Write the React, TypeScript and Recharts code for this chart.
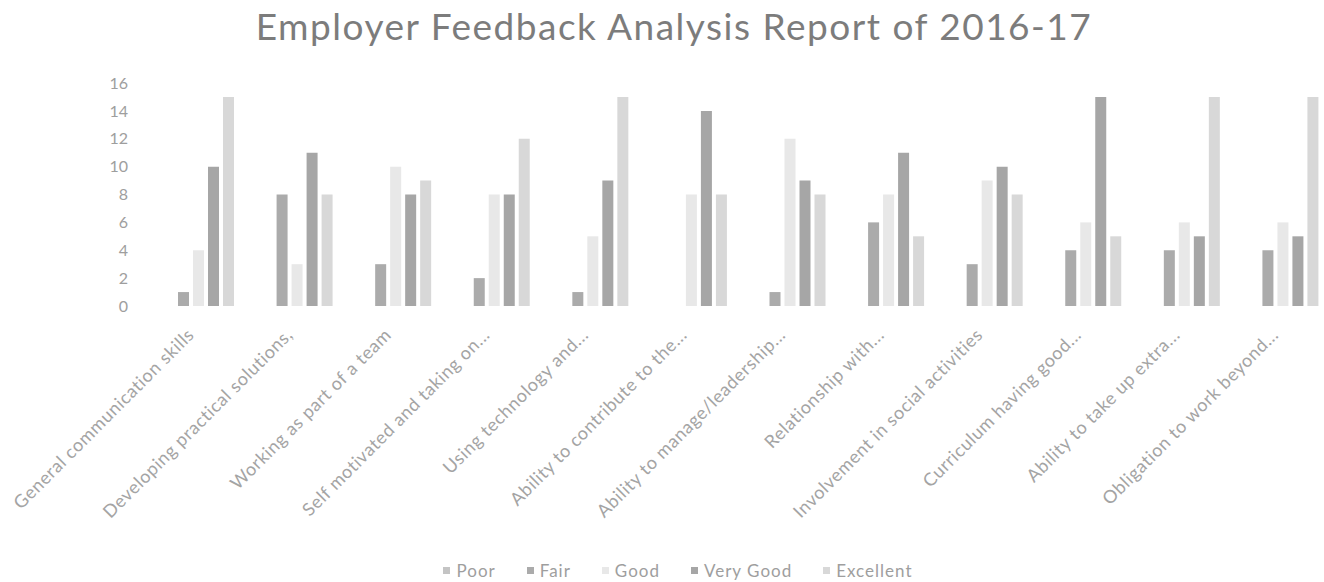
import React from 'react';
import { BarChart, Bar, XAxis, YAxis, Legend } from 'recharts';

const categories = [
  'General communication skills',
  'Developing practical solutions,',
  'Working as part of a team',
  'Self motivated and taking on...',
  'Using technology and...',
  'Ability to contribute to the...',
  'Ability to manage/leadership...',
  'Relationship with...',
  'Involvement in social activities',
  'Curriculum having good...',
  'Ability to take up extra...',
  'Obligation to work beyond...',
];

const poor = [0, 0, 0, 0, 0, 0, 0, 0, 0, 0, 0, 0];
const fair = [1, 8, 3, 2, 1, 0, 1, 6, 3, 4, 4, 4];
const good = [4, 3, 10, 8, 5, 8, 12, 8, 9, 6, 6, 6];
const veryGood = [10, 11, 8, 8, 9, 14, 9, 11, 10, 15, 5, 5];
const excellent = [15, 8, 9, 12, 15, 8, 8, 5, 8, 5, 15, 15];

const yTicks = [0, 2, 4, 6, 8, 10, 12, 14, 16];

const series = [
  { key: 'poor', name: 'Poor', color: '#c4c4c4' },
  { key: 'fair', name: 'Fair', color: '#ababab' },
  { key: 'good', name: 'Good', color: '#e8e8e8' },
  { key: 'veryGood', name: 'Very Good', color: '#a6a6a6' },
  { key: 'excellent', name: 'Excellent', color: '#d8d8d8' },
];

const data = categories.map((name, i) => ({
  name,
  poor: poor[i],
  fair: fair[i],
  good: good[i],
  veryGood: veryGood[i],
  excellent: excellent[i],
}));

const FONT = 'Lato, "Open Sans", sans-serif';

function CategoryTick(props: any) {
  const { x, y, payload } = props;
  return (
    <g transform={`translate(${x - 3},${y + 22})`}>
      <text
        transform="rotate(-45)"
        textAnchor="end"
        fill="#a4a4a4"
        fontSize={18}
        fontFamily={FONT}
        letterSpacing={0.6}
      >
        {payload.value}
      </text>
    </g>
  );
}

function LegendContent() {
  return (
    <div
      style={{
        display: 'flex',
        justifyContent: 'center',
        alignItems: 'center',
        gap: 31,
        fontFamily: FONT,
        fontSize: 17,
        color: '#9e9e9e',
        letterSpacing: 1,
        paddingLeft: 24,
        height: 24,
      }}
    >
      {series.map((s) => (
        <span key={s.key} style={{ display: 'flex', alignItems: 'center' }}>
          <span
            style={{
              display: 'inline-block',
              width: 7,
              height: 7,
              background: s.color,
              marginRight: 6,
            }}
          />
          {s.name}
        </span>
      ))}
    </div>
  );
}

export default function App() {
  return (
    <div
      style={{
        position: 'absolute',
        left: 0,
        top: 0,
        width: 1324,
        height: 582,
        overflow: 'hidden',
        background: '#ffffff',
      }}
    >
      <div
        style={{
          position: 'absolute',
          left: 0,
          top: 7,
          width: 1348,
          textAlign: 'center',
          fontFamily: FONT,
          fontSize: 37,
          lineHeight: 1,
          color: '#7c7c7c',
          letterSpacing: 1.5,
        }}
      >
        Employer Feedback Analysis Report of 2016-17
      </div>
      <BarChart
        width={1340}
        height={582}
        data={data}
        margin={{ top: 83, right: 8, bottom: 0, left: 0 }}
        barSize={11}
        barGap={4}
      >
        <XAxis
          dataKey="name"
          axisLine={false}
          tickLine={false}
          interval={0}
          height={252}
          tick={<CategoryTick />}
        />
        <YAxis
          width={149}
          domain={[0, 16]}
          ticks={yTicks}
          axisLine={false}
          tickLine={false}
          tickMargin={15}
          tick={{ fill: '#9e9e9e', fontSize: 16, fontFamily: FONT }}
        />
        <Legend verticalAlign="bottom" height={24} content={<LegendContent />} />
        {series.map((s) => (
          <Bar
            key={s.key}
            dataKey={s.key}
            name={s.name}
            fill={s.color}
            isAnimationActive={false}
          />
        ))}
      </BarChart>
    </div>
  );
}
